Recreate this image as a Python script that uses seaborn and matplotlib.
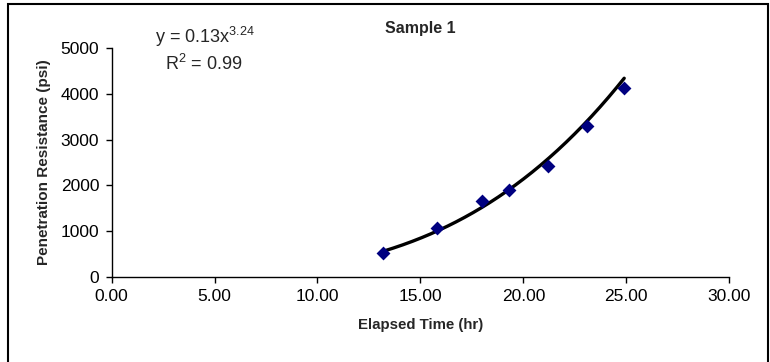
import numpy as np
import pandas as pd
import seaborn as sns
import matplotlib.pyplot as plt
from matplotlib.patches import Rectangle

# elapsed time (hr) vs penetration resistance (psi)
elapsed_hr = [13.2, 15.8, 18.0, 19.3, 21.2, 23.1, 24.9]
resistance_psi = [510, 1060, 1660, 1900, 2430, 3300, 4130]

# power trendline shown on chart: y = a * x^b
coef_a = 0.13
coef_b = 3.24
r_squared = 0.99

x_ticks = [0, 5, 10, 15, 20, 25, 30]
y_ticks = [0, 1000, 2000, 3000, 4000, 5000]

sns.set_theme(style="white")
plt.rcParams['font.family'] = ['Liberation Sans', 'DejaVu Sans']
plt.rcParams['mathtext.fontset'] = 'custom'
plt.rcParams['mathtext.rm'] = 'Liberation Sans'
plt.rcParams['mathtext.it'] = 'Liberation Sans'

df = pd.DataFrame({'t': elapsed_hr, 'p': resistance_psi})
xf = np.linspace(min(elapsed_hr), max(elapsed_hr), 200)
fit = pd.DataFrame({'t': xf, 'p': coef_a * xf ** coef_b})

fig = plt.figure(figsize=(7.7, 3.62), dpi=100)
ax = fig.add_axes([0.145, 0.236, 0.802, 0.631])

sns.lineplot(data=fit, x='t', y='p', color='black', linewidth=2.4, ax=ax, zorder=2)
sns.scatterplot(data=df, x='t', y='p', marker='D', s=50, color='#000080',
                edgecolor='#000080', linewidth=0, ax=ax, zorder=3)

ax.set_xlim(0, 30)
ax.set_ylim(0, 5000)
ax.set_xticks(x_ticks)
ax.set_xticklabels([f'{v:.2f}' for v in x_ticks])
ax.set_yticks(y_ticks)
ax.tick_params(axis='both', direction='out', length=4, width=1, colors='black',
               labelsize=12.5, pad=5, bottom=True, left=True)
for side in ['top', 'right']:
    ax.spines[side].set_visible(False)
for side in ['left', 'bottom']:
    ax.spines[side].set_color('black')
    ax.spines[side].set_linewidth(1)

ax.set_xlabel('Elapsed Time (hr)', fontsize=10.8, fontweight='bold', labelpad=10)
ax.set_ylabel('Penetration Resistance (psi)', fontsize=11, fontweight='bold', labelpad=7)
ax.set_title('Sample 1', fontsize=11.5, fontweight='bold', pad=11)

fig.text(155 / 770, 1 - 37 / 362, f'y = {coef_a}x$^{{{coef_b}}}$', fontsize=13,
         va='center', ha='left')
fig.text(165 / 770, 1 - 64 / 362, f'R$^{{2}}$ = {r_squared}', fontsize=13,
         va='center', ha='left')

fig.patches.append(Rectangle((8 / 770, -0.05), 760 / 770, 1.05 - 4 / 362,
                             transform=fig.transFigure, fill=False,
                             edgecolor='black', linewidth=1.5, clip_on=False))

fig.savefig('out.png', dpi=100)
